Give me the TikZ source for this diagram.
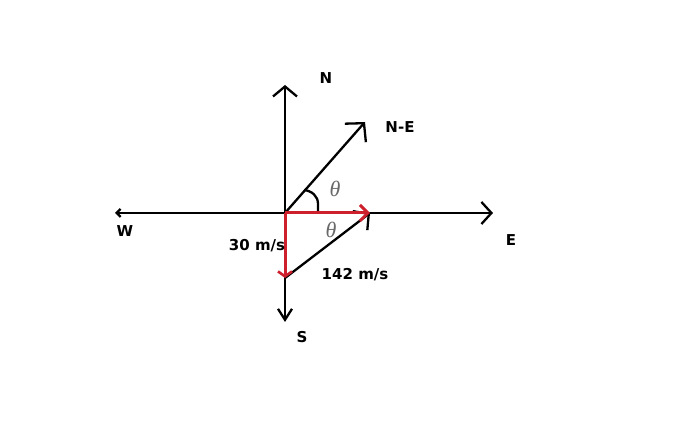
\documentclass[tikz,border=0pt]{standalone}
\usepackage{fontspec}
\setsansfont{DejaVu Sans}
\newfontfamily\thfont{Liberation Serif}
\usetikzlibrary{arrows.meta}
\definecolor{vred}{RGB}{205,32,44}
\definecolor{thgray}{RGB}{105,105,105}
\tikzset{
  axis/.style={line width=2.3pt, black},
  redvec/.style={line width=3pt, vred},
  lbl/.style={font=\sffamily\bfseries\fontsize{15}{15}\selectfont, inner sep=0pt},
  thlbl/.style={font=\thfont\itshape\fontsize{22}{22}\selectfont, text=thgray, inner sep=0pt},
}
\begin{document}
\begin{tikzpicture}[x=1pt,y=-1pt]
\useasboundingbox (0,0) rectangle (673,443);
\fill[white] (0,0) rectangle (673,443);
\coordinate (O) at (285,213);
\coordinate (Ntip) at (285,85);
\coordinate (Stip) at (285,322);
\coordinate (Wtip) at (115,213);
\coordinate (Etip) at (493,213);
\coordinate (NEtip) at (365,122);
\coordinate (R) at (370,213);
\coordinate (D) at (285,278);
% axes
\draw[axis, -{Straight Barb[length=10pt,width=24pt,line width=2.3pt]}] (O) -- (Ntip);
\draw[axis, -{Straight Barb[length=11pt,width=14pt,line width=2.3pt]}] (O) -- (Stip);
\draw[axis, -{Straight Barb[length=4pt,width=8pt,line width=2.3pt]}] (O) -- (Wtip);
\draw[axis, -{Straight Barb[length=10pt,width=22pt,line width=2.3pt]}] (O) -- (Etip);
\draw[axis, -{Straight Barb[length=13pt,width=28pt,line width=2.3pt]}] (O) -- (NEtip);
% angle arc
\draw[axis] (318,213) -- (318,204) .. controls (318,196) and (312,191) .. (304,190);
% resultant
\draw[axis, -{Straight Barb[length=11pt,width=24pt,line width=2.3pt]}] (D) -- (R);
% red components
\draw[redvec, -{Straight Barb[length=8pt,width=16pt,line width=3pt]}] (O) -- (R);
\draw[redvec, -{Straight Barb[length=5pt,width=14pt,line width=2.6pt]}] (O) -- (D);
% labels
\node[lbl] (N) at (326,78) {N};
\node[lbl] (NE) at (400,127) {N-E};
\node[lbl] (W) at (125,231) {W};
\node[lbl] (E) at (511,240) {E};
\node[lbl] (S) at (302,337) {S};
\node[lbl] (v1) at (257,246) {30 m/s};
\node[lbl] (v2) at (355,275) {142 m/s};
\node[thlbl] (t1) at (335,189) {θ};
\node[thlbl] (t2) at (331,230) {θ};
\end{tikzpicture}
\end{document}
